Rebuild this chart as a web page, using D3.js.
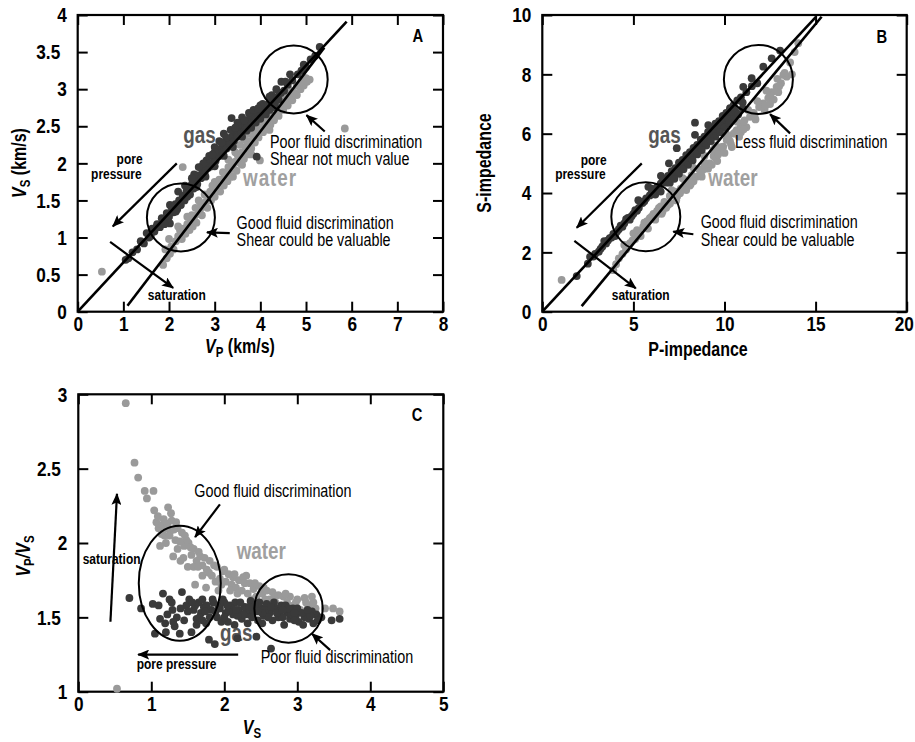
<!DOCTYPE html>
<html>
<head>
<meta charset="utf-8">
<script src="https://cdn.jsdelivr.net/npm/d3@7"></script>
<style>
  html, body { margin: 0; padding: 0; background: #fff; }
  svg { display: block; }
  text { font-family: "Liberation Sans", Arial, Helvetica, sans-serif; }
</style>
</head>
<body>
<svg id="fig" width="915" height="742"></svg>
<script>
// ---------- Panel A: Vs against Vp (km/s) ----------
const gasA = [
  [1.05,0.70],[1.11,0.72],[1.20,0.80],[1.30,0.84],[1.38,0.95],[1.45,0.92],[1.51,1.06],[1.56,1.00],
  [1.63,1.12],[1.68,1.08],[1.73,1.15],[1.74,1.18],[1.80,1.14],[1.84,1.26],[1.90,1.22],[1.95,1.33],
  [2.00,1.28],[2.02,1.19],[2.02,1.44],[2.06,1.40],[2.10,1.34],[2.14,1.45],[2.18,1.38],[2.22,1.50],
  [2.24,1.44],[2.26,1.44],[2.30,1.56],[2.34,1.50],[2.38,1.62],[2.39,1.68],[2.42,1.68],[2.46,1.58],
  [2.50,1.72],[2.54,1.66],[2.58,1.78],[2.62,1.72],[2.66,1.84],[2.70,1.80],[2.74,1.90],[2.78,1.86],
  [2.82,2.04],[2.86,1.94],[2.88,2.10],[2.90,2.00],[2.94,1.96],[2.98,2.08],[3.02,2.03],[3.06,2.14],
  [3.10,2.10],[3.14,2.20],[3.18,2.15],[3.22,2.26],[3.26,2.20],[3.30,2.32],[3.34,2.26],[3.37,2.61],
  [3.38,2.36],[3.42,2.30],[3.46,2.42],[3.50,2.36],[3.54,2.48],[3.58,2.42],[3.62,2.52],[3.66,2.46],
  [3.70,2.57],[3.72,2.50],[3.76,2.60],[3.80,2.54],[3.84,2.64],[3.88,2.58],[3.92,2.09],[3.94,2.68],
  [3.98,2.62],[4.02,2.72],[4.06,2.67],[4.10,2.76],[4.14,2.71],[4.18,2.80],[4.22,2.75],[4.27,2.84],
  [4.32,2.80],[4.38,2.90],[4.46,3.10],[4.52,2.98],[4.60,3.06],[4.70,3.12],[4.82,3.20],[4.95,3.33],
  [5.10,3.40],[5.30,3.57],[3.20,2.40],[2.55,1.85],[3.60,2.62],[3.00,2.22],[2.40,1.55],[2.60,1.68],
  [2.80,1.82],[3.00,1.96],[3.20,2.10],[3.40,2.22],[3.60,2.36],[3.80,2.48],[4.00,2.60],[4.20,2.72],
  [4.40,2.86],[1.60,1.02],[1.90,1.18],[2.15,1.35],[3.10,2.30],[3.50,2.55],[4.25,2.92],[4.05,2.80],
  [2.70,1.95],[2.35,1.70],[3.70,2.44],[3.90,2.55],[4.12,2.66],[4.30,2.76],[2.20,1.62],[2.50,1.80],
  [2.75,2.00],[3.00,2.15],[3.25,2.35],[3.50,2.50],[3.75,2.68],[4.00,2.78],[4.20,2.90],[2.65,1.95],
  [3.35,2.45],[3.85,2.72],[4.35,3.00],[4.55,3.10],[4.65,3.20],[4.90,3.25],[5.00,3.30],[5.20,3.45],
  [3.15,2.28],[3.45,2.48],[3.65,2.58],[3.95,2.74],[4.45,2.95],[2.95,2.12]
];
const waterA = [
  [0.53,0.54],[1.87,0.63],[1.92,0.84],[1.95,0.72],[2.00,0.98],[2.02,0.78],[2.05,0.88],[2.10,0.84],
  [2.15,0.95],[2.20,1.02],[2.20,1.15],[2.24,1.10],[2.28,0.98],[2.30,1.95],[2.32,1.12],[2.36,1.05],
  [2.40,1.18],[2.45,1.10],[2.48,1.22],[2.50,1.30],[2.52,1.15],[2.55,1.28],[2.60,1.20],[2.63,1.32],
  [2.68,1.38],[2.70,1.45],[2.72,1.30],[2.75,1.42],[2.80,1.48],[2.84,1.40],[2.88,1.55],[2.90,1.62],
  [2.92,1.50],[2.96,1.60],[3.00,1.55],[3.00,1.75],[3.04,1.66],[3.08,1.72],[3.10,1.78],[3.12,1.62],
  [3.16,1.78],[3.20,1.70],[3.24,1.84],[3.28,1.76],[3.30,1.95],[3.32,1.90],[3.36,1.82],[3.40,1.95],
  [3.40,1.82],[3.44,2.02],[3.48,1.90],[3.50,2.12],[3.52,2.08],[3.56,2.00],[3.60,2.15],[3.60,1.98],
  [3.64,2.06],[3.68,2.22],[3.70,2.30],[3.72,2.12],[3.76,2.30],[3.80,2.20],[3.80,2.12],[3.84,2.38],
  [3.88,2.28],[3.90,2.40],[3.92,2.45],[3.96,2.35],[3.99,2.04],[4.02,2.50],[4.06,2.42],[4.10,2.55],
  [4.10,2.62],[4.14,2.48],[4.18,2.60],[4.20,2.45],[4.22,2.52],[4.26,2.66],[4.30,2.58],[4.30,2.74],
  [4.35,2.70],[4.40,2.64],[4.45,2.76],[4.50,2.72],[4.50,2.86],[4.55,2.82],[4.60,2.78],[4.65,2.88],
  [4.70,2.85],[4.70,2.96],[4.75,2.95],[4.80,2.92],[4.88,3.00],[4.95,3.05],[5.02,3.10],[5.08,3.13],
  [5.85,2.47],[3.30,2.05],[3.45,2.15],[3.55,2.25],[3.65,2.32],[3.75,2.40],[3.85,2.48],[3.95,2.55],
  [4.05,2.62],[4.15,2.70],[4.25,2.76],[4.35,2.82],[4.45,2.90],[4.55,2.95],[4.62,3.00],[4.80,3.05],
  [4.90,3.10],[5.00,3.15],[2.58,1.40],[2.78,1.58],[3.18,1.88],[3.38,2.00],[3.58,2.10],[3.78,2.28],
  [3.98,2.42],[4.18,2.52],[4.38,2.68],[2.40,1.28],[2.65,1.50],[2.95,1.70]
];
const ticksAx = [0,1,2,3,4,5,6,7,8];
const ticksAy = [0,0.5,1,1.5,2,2.5,3,3.5,4];
const linesA = [[[0,0],[5.89,3.91]], [[1.09,0.08],[5.40,3.56]]];

// ---------- Panel B: S-impedance against P-impedance ----------
const gasB = [
  [1.89,1.20],[2.50,1.62],[2.62,1.85],[2.90,1.95],[3.10,2.02],[3.30,2.20],[3.50,2.30],[3.70,2.48],
  [3.90,2.62],[4.00,2.55],[4.10,2.70],[4.30,2.90],[4.50,2.98],[4.70,3.16],[4.90,3.22],[5.10,3.42],
  [5.27,3.76],[5.30,3.50],[5.50,3.66],[5.70,3.82],[5.82,4.21],[5.90,3.92],[6.00,4.00],[6.10,4.08],
  [6.20,3.95],[6.30,4.20],[6.51,4.58],[6.50,4.32],[6.70,4.48],[6.80,4.35],[6.95,5.00],[6.90,4.58],
  [7.10,4.74],[7.20,4.60],[7.30,4.84],[7.38,5.51],[7.50,5.02],[7.60,4.90],[7.70,5.12],[7.90,5.28],
  [8.00,5.15],[8.10,5.38],[8.38,6.37],[8.38,5.96],[8.30,5.52],[8.40,5.40],[8.50,5.62],[8.70,5.80],
  [8.80,5.65],[8.90,5.90],[9.11,6.29],[9.10,6.06],[9.20,5.90],[9.30,6.16],[9.50,6.34],[9.60,6.15],
  [9.70,6.42],[9.90,6.60],[10.00,6.40],[10.10,6.70],[10.30,6.86],[10.40,6.65],[10.50,6.96],
  [10.70,7.12],[10.90,7.22],[11.03,7.58],[11.20,7.40],[11.49,7.87],[11.50,7.60],[12.13,8.26],
  [12.59,8.54],[13.05,8.80],[3.20,2.12],[3.80,2.50],[4.40,2.86],[4.80,3.10],[5.20,3.40],
  [5.60,3.72],[6.40,4.12],[7.00,4.50],[7.80,5.00],[8.20,5.25],[8.60,5.50],[9.00,5.75],
  [9.40,6.00],[9.80,6.25],[10.20,6.50],[10.60,6.75],[11.00,7.05],[11.80,7.70],[6.60,4.40],
  [7.40,4.75],[5.00,3.30],[4.20,2.78],[3.60,2.40],[2.80,1.86],[7.00,4.35],[7.50,4.65],
  [8.00,4.95],[8.50,5.30],[9.00,5.60],[9.50,5.90],[10.00,6.20],[10.50,6.50],[6.50,4.05],
  [11.00,6.85],[7.25,4.48],[7.75,4.80],[8.25,5.10],[8.75,5.45],[9.25,5.75],[9.75,6.05],
  [10.25,6.35],[10.75,6.65],[5.40,3.70],[6.00,4.15],[4.60,3.12],[3.40,2.38]
];
const waterB = [
  [1.06,1.07],[3.90,1.40],[4.05,1.60],[4.20,1.80],[4.40,1.95],[4.60,2.10],[4.81,2.31],[5.00,2.64],
  [5.10,2.45],[5.30,2.70],[5.40,2.55],[5.54,2.87],[5.70,2.95],[5.80,2.80],[5.90,3.15],[6.10,3.30],
  [6.20,3.10],[6.30,3.40],[6.50,3.55],[6.60,3.38],[6.70,3.70],[7.01,3.65],[7.00,3.90],[7.19,3.99],
  [7.30,4.05],[7.40,3.88],[7.56,3.99],[7.74,4.21],[7.80,4.45],[8.00,4.40],[8.10,4.25],[8.20,4.60],
  [8.47,4.55],[8.60,4.80],[8.70,4.62],[8.80,4.78],[9.00,5.00],[9.10,4.82],[9.20,5.00],[9.39,5.45],
  [9.50,5.20],[9.60,5.08],[9.70,5.40],[9.93,5.56],[10.00,5.35],[10.12,5.79],[10.30,5.75],
  [10.40,5.55],[10.50,6.00],[10.67,6.12],[10.80,5.90],[10.90,6.25],[11.10,6.45],[11.20,6.22],
  [11.40,6.57],[11.60,6.70],[11.70,6.48],[11.90,6.90],[12.13,7.02],[12.20,6.80],[12.40,7.20],
  [12.60,7.40],[12.70,7.15],[12.86,7.58],[13.10,7.70],[13.23,7.98],[13.41,7.92],[13.60,8.40],
  [13.85,8.75],[14.05,9.05],[6.90,3.60],[7.60,4.15],[8.30,4.40],[8.90,4.95],[9.40,5.25],
  [9.80,5.55],[10.20,5.85],[10.60,6.05],[11.00,6.35],[11.50,6.70],[12.00,6.95],[12.50,7.30],
  [13.00,7.60],[5.20,2.75],[6.00,3.20],[6.40,3.50],[7.10,4.10],[7.70,4.50],[8.30,4.85],
  [8.90,5.25],[9.50,5.60],[10.10,5.98],[10.70,6.40],[11.30,6.80],[11.80,7.10],[12.30,7.45],
  [12.90,7.85],[13.30,8.05],[6.80,3.50],[7.90,4.10],[9.30,4.95],[10.90,6.05],[12.50,7.00],
  [5.60,3.00],[6.25,3.25],[4.50,2.25],[13.70,8.00],[4.95,2.40],[5.75,3.05],[6.55,3.30],
  [7.35,3.75],[8.15,4.30],[8.75,4.55],[9.65,5.30],[10.35,5.65],[11.05,6.15],[11.65,6.60],
  [12.25,6.95],[12.95,7.40]
];
const ticksBx = [0,5,10,15,20];
const ticksBy = [0,2,4,6,8,10];
const linesB = [[[0,0],[15.02,9.94]], [[2.16,0.19],[15.33,9.94]]];

// ---------- Panel C: Vp/Vs against Vs ----------
const gasC = [
  [0.70,1.63],[0.86,1.56],[1.02,1.59],[1.05,1.39],[1.10,1.58],[1.16,1.66],[1.19,1.46],[1.22,1.52],
  [1.25,1.62],[1.29,1.55],[1.32,1.44],[1.35,1.50],[1.39,1.39],[1.42,1.67],[1.45,1.48],[1.48,1.58],
  [1.52,1.62],[1.55,1.40],[1.58,1.55],[1.62,1.49],[1.65,1.60],[1.68,1.53],[1.72,1.57],[1.75,1.46],
  [1.79,1.35],[1.82,1.55],[1.85,1.60],[1.87,1.32],[1.90,1.50],[1.94,1.56],[1.98,1.62],[2.02,1.53],
  [2.05,1.47],[2.08,1.58],[2.12,1.52],[2.15,1.60],[2.18,1.36],[2.20,1.55],[2.24,1.49],[2.28,1.57],
  [2.32,1.52],[2.36,1.61],[2.40,1.54],[2.44,1.37],[2.46,1.48],[2.50,1.56],[2.54,1.51],[2.58,1.59],
  [2.62,1.53],[2.64,1.29],[2.66,1.48],[2.70,1.56],[2.74,1.50],[2.78,1.58],[2.82,1.45],[2.86,1.53],
  [2.90,1.49],[2.94,1.56],[2.98,1.51],[3.02,1.47],[3.08,1.45],[3.12,1.52],[3.16,1.49],[3.22,1.46],
  [3.26,1.52],[3.33,1.50],[3.47,1.48],[3.58,1.49],[1.60,1.58],[1.70,1.62],[1.80,1.50],[1.92,1.58],
  [2.00,1.60],[2.10,1.56],[2.22,1.60],[2.30,1.55],[2.38,1.50],[2.48,1.60],[2.56,1.55],[2.68,1.60],
  [2.76,1.54],[2.84,1.58],[2.92,1.52],[3.00,1.56],[3.10,1.50],[3.20,1.54],[1.50,1.54],[1.66,1.50],
  [1.76,1.58],[2.06,1.54],[2.26,1.52],[2.42,1.58],[2.60,1.50],[2.80,1.50],[2.96,1.48],[1.30,1.47],
  [1.40,1.56],[1.20,1.40],[1.56,1.60],[1.74,1.54],[1.88,1.54],[2.04,1.58],[2.18,1.51],[2.34,1.57],
  [2.52,1.53],[2.72,1.53],[2.88,1.56],[3.06,1.53],[3.18,1.51],[1.12,1.49],[1.28,1.60],[1.62,1.45],
  [1.96,1.47],[2.14,1.45],[2.52,1.46],[3.28,1.48],[1.70,1.48],[1.84,1.62],[2.00,1.50],[2.16,1.55],
  [2.32,1.46],[2.46,1.54],[2.64,1.57],[2.80,1.55],[2.96,1.53],[3.14,1.55]
];
const waterC = [
  [0.53,1.02],[0.65,2.94],[0.77,2.54],[0.82,2.44],[0.91,2.35],[0.94,2.30],[1.03,2.35],[1.04,2.22],
  [1.07,2.14],[1.10,2.10],[1.12,1.98],[1.15,2.12],[1.18,2.05],[1.22,2.13],[1.23,2.24],[1.26,2.08],
  [1.28,2.15],[1.30,1.91],[1.33,2.02],[1.36,1.96],[1.40,1.88],[1.42,2.07],[1.45,1.98],[1.48,2.02],
  [1.50,1.84],[1.51,2.00],[1.55,1.92],[1.58,1.96],[1.60,1.72],[1.62,1.88],[1.65,1.94],[1.67,1.91],
  [1.70,1.85],[1.73,1.90],[1.75,1.70],[1.76,1.82],[1.80,1.88],[1.83,1.78],[1.86,1.85],[1.90,1.84],
  [1.92,1.68],[1.94,1.76],[1.98,1.81],[2.02,1.74],[2.06,1.79],[2.10,1.72],[2.12,1.77],[2.16,1.70],
  [2.20,1.75],[2.24,1.68],[2.28,1.73],[2.32,1.66],[2.35,1.73],[2.40,1.69],[2.44,1.64],[2.48,1.71],
  [2.52,1.66],[2.58,1.68],[2.62,1.62],[2.66,1.67],[2.70,1.60],[2.76,1.57],[2.81,1.64],[2.86,1.60],
  [2.90,1.64],[2.95,1.58],[3.00,1.62],[3.04,1.55],[3.10,1.63],[3.15,1.58],[3.20,1.64],[3.25,1.56],
  [3.38,1.56],[3.49,1.56],[3.58,1.54],[1.36,2.10],[1.20,2.00],[1.58,1.84],[1.88,1.74],[2.00,1.82],
  [2.18,1.66],[2.38,1.62],[2.56,1.62],[2.74,1.65],[1.44,1.90],[1.70,1.78],[2.08,1.68],[2.30,1.78],
  [1.14,2.06],[1.17,2.16],[1.25,2.05],[1.31,2.09],[1.39,2.01],[1.54,1.97],[1.64,1.84],[1.79,1.80],
  [1.96,1.72],[2.14,1.79],[2.26,1.77],[2.42,1.73],[2.54,1.70],[2.68,1.63],[2.84,1.66],[2.98,1.60],
  [3.12,1.60],[3.22,1.60],[1.09,2.18],[1.20,2.10],[1.27,2.20],[1.34,2.14],[1.46,2.05]
];
const ticksCx = [0,1,2,3,4,5];
const ticksCy = [1,1.5,2,2.5,3];

// ---------- drawing ----------
const svg = d3.select('#fig');
const INK = '#000';
const GAS = '#3a3a3a', WATER = '#9a9a9a';
const SX = 0.82;            // horizontal squeeze giving a condensed face

const defs = svg.append('defs');
defs.append('marker').attr('id', 'head')
  .attr('viewBox', '0 0 12 10').attr('refX', 11).attr('refY', 5)
  .attr('markerWidth', 12).attr('markerHeight', 10).attr('markerUnits', 'userSpaceOnUse')
  .attr('orient', 'auto')
  .append('path').attr('d', 'M0,0 L12,5 L0,10 L2.5,5 Z').attr('fill', INK);

// condensed text placed at (x, y) in pixels; rot = -90 for vertical titles
function ctext(parent, x, y, opt) {
  const g = parent.append('g')
    .attr('transform', `translate(${x},${y})` + (opt.rot ? ` rotate(${opt.rot})` : '') + ` scale(${SX},1)`);
  const t = g.append('text')
    .attr('text-anchor', opt.anchor || 'start')
    .style('font-size', opt.size + 'px')
    .style('font-weight', opt.bold ? 'bold' : 'normal')
    .attr('fill', opt.color || INK);
  if (opt.spacing) t.style('letter-spacing', opt.spacing);
  if (opt.text != null) t.text(opt.text);
  return t;
}

function panel(cfg) {
  const g = svg.append('g');
  const x = d3.scaleLinear().domain(cfg.xDom).range([cfg.left, cfg.right]);
  const y = d3.scaleLinear().domain(cfg.yDom).range([cfg.bottom, cfg.top]);
  const fmt = d => String(d);

  const axisStyle = sel => {
    sel.select('.domain').remove();
    sel.selectAll('.tick line').attr('stroke', INK).attr('stroke-width', 2);
    sel.selectAll('.tick text').attr('fill', INK)
      .style('font-size', '21px').style('font-weight', 'bold')
      .attr('transform', `scale(${SX},1)`);
  };
  const xAx = g.append('g').attr('transform', `translate(0,${cfg.bottom})`)
    .call(d3.axisBottom(x).tickValues(cfg.xTicks).tickSize(-10).tickPadding(4.5).tickFormat(fmt)).call(axisStyle);
  // keep the last label inside the page when the frame reaches the edge
  if (cfg.lastShift) xAx.selectAll('.tick text').filter(d => d === cfg.xDom[1]).attr('x', -cfg.lastShift / SX);
  g.append('g').attr('transform', `translate(0,${cfg.top})`)
    .call(d3.axisTop(x).tickValues(cfg.xTicks).tickSize(-10).tickFormat('')).call(axisStyle);
  const yAx = g.append('g').attr('transform', `translate(${cfg.left},0)`)
    .call(d3.axisLeft(y).tickValues(cfg.yTicks).tickSize(-10).tickPadding(11 / SX).tickFormat(fmt)).call(axisStyle);
  // fractional labels sit a little further from the frame
  yAx.selectAll('.tick text').filter(d => !Number.isInteger(d)).attr('x', -17.5 / SX);
  g.append('g').attr('transform', `translate(${cfg.right},0)`)
    .call(d3.axisRight(y).tickValues(cfg.yTicks).tickSize(-10).tickFormat('')).call(axisStyle);
  g.selectAll('.tick text').attr('font-family', null);

  g.append('rect').attr('x', cfg.left).attr('y', cfg.top)
    .attr('width', cfg.right - cfg.left).attr('height', cfg.bottom - cfg.top)
    .attr('fill', 'none').attr('stroke', INK).attr('stroke-width', 2.2);

  return {g, x, y};
}

function dots(p, data, color) {
  p.g.append('g').selectAll('circle').data(data).join('circle')
    .attr('cx', d => p.x(d[0])).attr('cy', d => p.y(d[1]))
    .attr('r', 3.9).attr('fill', color);
}
function seg(p, a, b, w, arrow) {
  const l = p.g.append('line')
    .attr('x1', p.x(a[0])).attr('y1', p.y(a[1]))
    .attr('x2', p.x(b[0])).attr('y2', p.y(b[1]))
    .attr('stroke', INK).attr('stroke-width', w);
  if (arrow) l.attr('marker-end', 'url(#head)');
}
function label(p, pos, str, opt) {
  return ctext(p.g, p.x(pos[0]), p.y(pos[1]), Object.assign({text: str}, opt));
}
function ring(p, c, rx, ry) {
  p.g.append('ellipse').attr('cx', p.x(c[0])).attr('cy', p.y(c[1]))
    .attr('rx', rx).attr('ry', ry)
    .attr('fill', 'none').attr('stroke', INK).attr('stroke-width', 2);
}
// axis title built from pieces: italic V, subscripts, plain text
function title(x, y, rot, parts) {
  const t = ctext(svg, x, y, {rot, size: 19.5, bold: true, anchor: 'middle'});
  parts.forEach(([s, kind]) => {
    const ts = t.append('tspan').text(s);
    if (kind === 'v') ts.style('font-style', 'italic');
    if (kind === 'sub') ts.style('font-size', '14px').attr('dy', 4);
    if (kind === 'up') ts.attr('dy', -4);
    if (kind === 'vup') ts.style('font-style', 'italic').attr('dy', -4);
  });
}

const ann = 17.5, small = 14.6, big = 23;
const GASTXT = '#555555', WATERTXT = '#a0a0a0';

// ---- A ----
const pA = panel({left: 77.7, right: 443, top: 15, bottom: 311.7, xDom: [0, 8], yDom: [0, 4], xTicks: ticksAx, yTicks: ticksAy});
dots(pA, waterA, WATER);
dots(pA, gasA, GAS);
linesA.forEach(l => seg(pA, l[0], l[1], 2.6));
ring(pA, [4.73, 3.13], 34, 34);
ring(pA, [2.26, 1.27], 34, 34);
seg(pA, [2.17, 2.0], [0.77, 1.15], 2.2, true);
seg(pA, [0.71, 0.94], [2.09, 0.32], 2.2, true);
seg(pA, [5.41, 2.43], [5.01, 2.65], 2.2, true);
seg(pA, [3.33, 1.06], [2.83, 1.07], 2.2, true);
label(pA, [7.45, 3.63], 'A', {size: 18, bold: true, anchor: 'middle'});
label(pA, [2.31, 2.27], 'gas', {size: big, bold: true, color: GASTXT});
label(pA, [3.62, 1.70], 'water', {size: big, bold: true, color: WATERTXT, spacing: '1.2px'});
label(pA, [4.21, 2.21], 'Poor fluid discrimination', {size: ann});
label(pA, [4.21, 1.98], 'Shear not much value', {size: ann});
label(pA, [3.48, 1.12], 'Good fluid discrimination', {size: ann});
label(pA, [3.48, 0.89], 'Shear could be valuable', {size: ann});
label(pA, [1.42, 1.99], 'pore', {size: small, bold: true, anchor: 'end'});
label(pA, [1.40, 1.79], 'pressure', {size: small, bold: true, anchor: 'end'});
label(pA, [2.17, 0.16], 'saturation', {size: small, bold: true, anchor: 'middle'});
title(240, 353, 0, [['V', 'v'], ['P', 'sub'], [' (km/s)', 'up']]);
title(26, 163, -90, [['V', 'v'], ['S', 'sub'], [' (km/s)', 'up']]);

// ---- B ----
const pB = panel({left: 542.3, right: 906.7, top: 15, bottom: 311.7, xDom: [0, 20], yDom: [0, 10], xTicks: ticksBx, yTicks: ticksBy, lastShift: 3});
dots(pB, waterB, WATER);
dots(pB, gasB, GAS);
linesB.forEach(l => seg(pB, l[0], l[1], 2.6));
ring(pB, [11.86, 7.83], 34.5, 34.5);
ring(pB, [5.68, 3.20], 34.5, 34.5);
seg(pB, [5.46, 5.0], [1.89, 2.83], 2.2, true);
seg(pB, [1.76, 2.39], [5.13, 0.79], 2.2, true);
seg(pB, [13.6, 6.01], [12.5, 6.66], 2.2, true);
seg(pB, [8.29, 2.61], [7.19, 2.70], 2.2, true);
label(pB, [18.63, 9.07], 'B', {size: 18, bold: true, anchor: 'middle'});
label(pB, [5.82, 5.68], 'gas', {size: big, bold: true, color: GASTXT});
label(pB, [9.11, 4.25], 'water', {size: big, bold: true, color: WATERTXT});
label(pB, [10.58, 5.53], 'Less fluid discrimination', {size: ann});
label(pB, [8.69, 2.81], 'Good fluid discrimination', {size: ann});
label(pB, [8.69, 2.22], 'Shear could be valuable', {size: ann});
label(pB, [3.53, 4.96], 'pore', {size: small, bold: true, anchor: 'end'});
label(pB, [3.48, 4.47], 'pressure', {size: small, bold: true, anchor: 'end'});
label(pB, [5.40, 0.39], 'saturation', {size: small, bold: true, anchor: 'middle'});
title(698, 356, 0, [['P-impedance', '']]);
title(491, 163, -90, [['S-impedance', '']]);

// ---- C ----
const pC = panel({left: 78.3, right: 443.3, top: 394.3, bottom: 691.7, xDom: [0, 5], yDom: [1, 3], xTicks: ticksCx, yTicks: ticksCy});
label(pC, [1.94, 1.34], 'gas', {size: big, bold: true, color: GASTXT});
dots(pC, waterC, WATER);
dots(pC, gasC, GAS);
ring(pC, [1.39, 1.73], 41, 57.5);
ring(pC, [2.88, 1.56], 34.2, 34.2);
seg(pC, [1.94, 2.26], [1.60, 2.04], 2.2, true);
seg(pC, [0.44, 1.47], [0.53, 2.33], 2.2, true);
seg(pC, [2.19, 1.25], [0.82, 1.25], 2.2, true);
seg(pC, [3.45, 1.28], [3.20, 1.39], 2.2, true);
label(pC, [4.64, 2.82], 'C', {size: 18, bold: true, anchor: 'middle'});
label(pC, [2.17, 1.89], 'water', {size: big, bold: true, color: WATERTXT});
label(pC, [1.59, 2.31], 'Good fluid discrimination', {size: ann});
label(pC, [2.50, 1.19], 'Poor fluid discrimination', {size: ann});
label(pC, [0.06, 1.86], 'saturation', {size: small, bold: true});
label(pC, [0.80, 1.15], 'pore pressure', {size: small, bold: true});
title(252, 734, 0, [['V', 'v'], ['S', 'sub']]);
title(30, 556, -90, [['V', 'v'], ['P', 'sub'], ['/V', 'vup'], ['S', 'sub']]);
</script>
</body>
</html>
